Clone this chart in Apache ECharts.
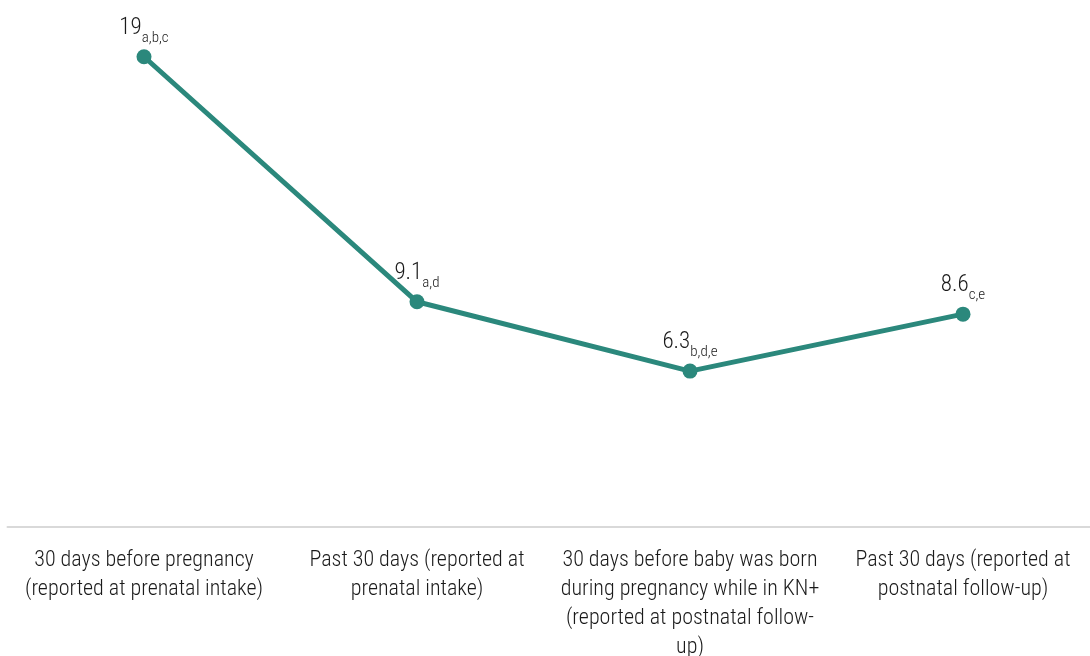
<!DOCTYPE html>
<html>
<head>
<meta charset="utf-8">
<title>Line chart</title>
<script src="https://cdn.jsdelivr.net/npm/echarts@6/dist/echarts.min.js"></script>
<style>
  html, body { margin: 0; padding: 0; background: #ffffff; }
  #chart { width: 1090px; height: 656px; }
</style>
</head>
<body>
<div id="chart"></div>
<script>
// Time-period categories (line breaks as laid out under the axis)
const categories = [
  '30 days before pregnancy\n(reported at prenatal intake)',
  'Past 30 days (reported at\nprenatal intake)',
  '30 days before baby was born\nduring pregnancy while in KN+\n(reported at postnatal follow-\nup)',
  'Past 30 days (reported at\npostnatal follow-up)'
];
// Percentages
const values = [19, 9.1, 6.3, 8.6];
// Significance-group letters shown as subscripts
const subscripts = ['a,b,c', 'a,d', 'b,d,e', 'c,e'];

const FONT = '"Roboto Condensed", "Liberation Sans Narrow", "DejaVu Sans Condensed", Roboto, sans-serif';
const TEAL = '#2b887c';

const chart = echarts.init(document.getElementById('chart'), null, { renderer: 'canvas' });

chart.setOption({
  animation: false,
  backgroundColor: '#ffffff',
  grid: {
    left: 7.5, top: 32, right: -9.5, bottom: 129,
    containLabel: false,
    outerBoundsMode: 'none'
  },
  xAxis: {
    type: 'category',
    data: categories,
    boundaryGap: true,
    axisLine: { show: true, lineStyle: { color: '#d9d9d9', width: 2 } },
    axisTick: { show: false },
    axisLabel: {
      interval: 0,
      margin: 19,
      color: '#1a1a1a',
      fontFamily: FONT,
      fontWeight: 300,
      fontSize: 22,
      lineHeight: 29,
      align: 'center',
      hideOverlap: false
    }
  },
  yAxis: {
    type: 'value',
    min: 0,
    max: 20,
    show: false,
    splitLine: { show: false }
  },
  series: [{
    type: 'line',
    data: values,
    symbol: 'circle',
    symbolSize: 15,
    lineStyle: { color: TEAL, width: 5 },
    itemStyle: { color: TEAL },
    label: {
      show: true,
      position: 'top',
      distance: 10,
      formatter: p => '{v|' + p.value + '}{s|' + subscripts[p.dataIndex] + '}',
      rich: {
        v: { fontFamily: FONT, fontWeight: 300, fontSize: 23, color: '#1a1a1a', verticalAlign: 'bottom' },
        s: { fontFamily: FONT, fontWeight: 300, fontSize: 15, color: '#1a1a1a', verticalAlign: 'bottom', padding: [0, 0, -6, 0] }
      }
    }
  }]
});
</script>
</body>
</html>
